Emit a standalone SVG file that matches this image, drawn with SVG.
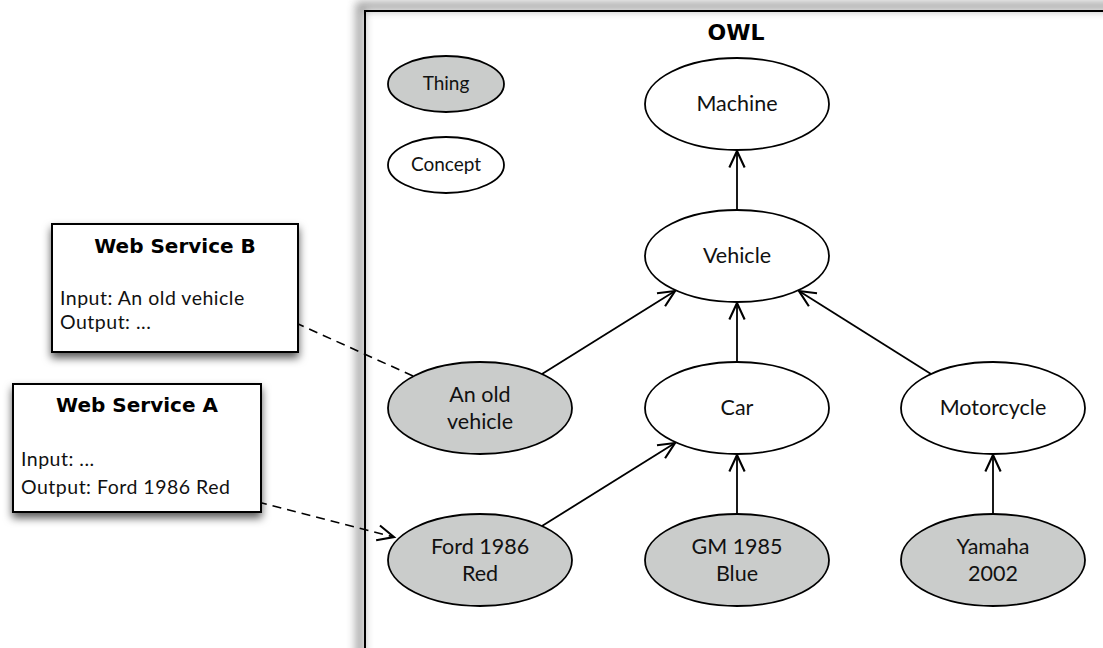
<svg xmlns="http://www.w3.org/2000/svg" width="1103" height="648" viewBox="0 0 1103 648">
<defs>
<style>
.node{stroke:#000;stroke-width:1.8}
.thing{fill:#cacccb}
.concept{fill:#fff}
.lbl{font-family:Lato,"Liberation Sans",sans-serif;font-size:21.5px;fill:#111;text-anchor:middle}
.small{font-size:19px}
.title{font-family:"DejaVu Sans","Liberation Sans",sans-serif;font-weight:bold;font-size:20px;fill:#000;text-anchor:middle}
.body{font-family:Lato,"Liberation Sans",sans-serif;font-size:19.5px;letter-spacing:0.5px;fill:#111}
.edge{stroke:#000;stroke-width:1.8;fill:none}
.dash{stroke:#000;stroke-width:1.6;fill:none;stroke-dasharray:9 6}
.box{fill:#fff;stroke:#000;stroke-width:2}
</style>
<marker id="arr" markerUnits="userSpaceOnUse" markerWidth="20" markerHeight="20" refX="0" refY="0" viewBox="-15 -8 17 16" orient="auto" overflow="visible">
<path d="M-14,-6.5 L0,0 L-14,6.5" fill="none" stroke="#000" stroke-width="1.8"/>
</marker>
<filter id="sh" x="-20%" y="-20%" width="140%" height="150%">
<feDropShadow dx="0" dy="5" stdDeviation="4" flood-color="#000" flood-opacity="0.65"/>
</filter>
<filter id="fsh" x="-10%" y="-10%" width="120%" height="120%">
<feGaussianBlur stdDeviation="5"/>
</filter>
</defs>
<g id="owl-frame">
<rect x="360" y="6" width="800" height="700" fill="none" stroke="#444" stroke-width="7" opacity="0.6" filter="url(#fsh)"/>
<rect x="365" y="11" width="800" height="700" fill="none" stroke="#000" stroke-width="2"/>
<text class="title" x="736" y="40" style="font-size:22px">OWL</text>
</g>
<g id="connectors">
<line class="edge" x1="737" y1="210" x2="737" y2="151" marker-end="url(#arr)"/>
<line class="edge" x1="737" y1="362" x2="737" y2="303" marker-end="url(#arr)"/>
<line class="edge" x1="737" y1="514" x2="737" y2="455" marker-end="url(#arr)"/>
<line class="edge" x1="993" y1="514" x2="993" y2="455" marker-end="url(#arr)"/>
<line class="edge" x1="542" y1="374" x2="675" y2="291" marker-end="url(#arr)"/>
<line class="edge" x1="931" y1="374" x2="799" y2="291" marker-end="url(#arr)"/>
<line class="edge" x1="542" y1="526" x2="675" y2="443" marker-end="url(#arr)"/>
<line class="dash" x1="413" y1="376" x2="265" y2="309" marker-end="url(#arr)"/>
<line class="dash" x1="258" y1="502" x2="394" y2="537" marker-end="url(#arr)"/>
</g>
<g id="legend-thing"><ellipse class="node thing" cx="446" cy="84" rx="58" ry="28"/><text class="lbl small" x="446" y="90">Thing</text></g>
<g id="legend-concept"><ellipse class="node concept" cx="446" cy="165" rx="58" ry="28"/><text class="lbl small" x="446" y="171">Concept</text></g>
<g id="machine"><ellipse class="node concept" cx="737" cy="104" rx="92" ry="46"/><text class="lbl" x="737" y="111">Machine</text></g>
<g id="vehicle"><ellipse class="node concept" cx="737" cy="256" rx="92" ry="46"/><text class="lbl" x="737" y="263">Vehicle</text></g>
<g id="old-vehicle"><ellipse class="node thing" cx="480" cy="408" rx="92" ry="46"/><text class="lbl" x="480" y="402">An old</text><text class="lbl" x="480" y="429">vehicle</text></g>
<g id="car"><ellipse class="node concept" cx="737" cy="408" rx="92" ry="46"/><text class="lbl" x="737" y="415">Car</text></g>
<g id="motorcycle"><ellipse class="node concept" cx="993" cy="408" rx="92" ry="46"/><text class="lbl" x="993" y="415">Motorcycle</text></g>
<g id="ford"><ellipse class="node thing" cx="480" cy="560" rx="92" ry="46"/><text class="lbl" x="480" y="554">Ford 1986</text><text class="lbl" x="480" y="581">Red</text></g>
<g id="gm"><ellipse class="node thing" cx="737" cy="560" rx="92" ry="46"/><text class="lbl" x="737" y="554">GM 1985</text><text class="lbl" x="737" y="581">Blue</text></g>
<g id="yamaha"><ellipse class="node thing" cx="993" cy="560" rx="92" ry="46"/><text class="lbl" x="993" y="554">Yamaha</text><text class="lbl" x="993" y="581">2002</text></g>
<g id="web-service-b">
<rect class="box" x="52" y="224" width="246" height="128" filter="url(#sh)"/>
<text class="title" x="175" y="253">Web Service B</text>
<text class="body" x="60" y="305">Input: An old vehicle</text>
<text class="body" x="60" y="329">Output: ...</text>
</g>
<g id="web-service-a">
<rect class="box" x="13" y="384" width="248" height="128" filter="url(#sh)"/>
<text class="title" x="137" y="412">Web Service A</text>
<text class="body" x="21" y="466">Input: ...</text>
<text class="body" x="21" y="494">Output: Ford 1986 Red</text>
</g>
</svg>
